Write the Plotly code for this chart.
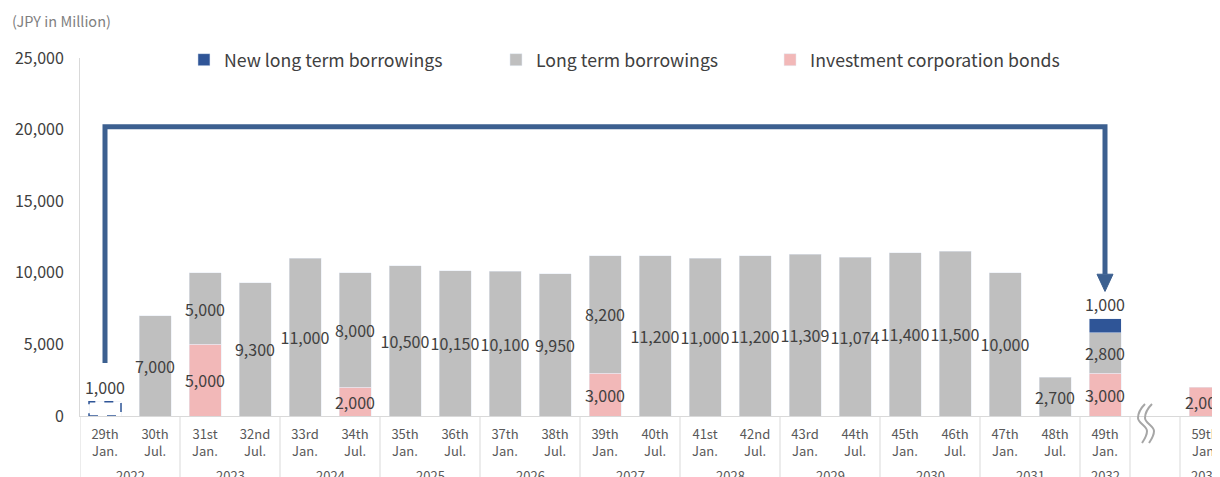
import plotly.graph_objects as go

# ---------------- data ----------------
categories = ["29th<br>Jan.", "30th<br>Jul.", "31st<br>Jan.", "32nd<br>Jul.", "33rd<br>Jan.",
              "34th<br>Jul.", "35th<br>Jan.", "36th<br>Jul.", "37th<br>Jan.", "38th<br>Jul.",
              "39th<br>Jan.", "40th<br>Jul.", "41st<br>Jan.", "42nd<br>Jul.", "43rd<br>Jan.",
              "44th<br>Jul.", "45th<br>Jan.", "46th<br>Jul.", "47th<br>Jan.", "48th<br>Jul.",
              "49th<br>Jan.", "\u00a0", "59th<br>Jan."]
years = ["2022", "2023", "2024", "2025", "2026", "2027", "2028", "2029", "2030", "2031", "2032", "2037"]
year_centers = [0.5, 2.5, 4.5, 6.5, 8.5, 10.5, 12.5, 14.5, 16.5, 18.5, 20, 22]
dividers = [-0.5, 1.5, 3.5, 5.5, 7.5, 9.5, 11.5, 13.5, 15.5, 17.5, 19.5, 20.5, 21.5]

bonds = [None, None, 5000, None, None, 2000, None, None, None, None, 3000, None, None, None,
         None, None, None, None, None, None, 3000, None, 2000]
long_term = [None, 7000, 5000, 9300, 11000, 8000, 10500, 10150, 10100, 9950, 8200, 11200, 11000,
             11200, 11309, 11074, 11400, 11500, 10000, 2700, 2800, None, None]
new_long = [None] * 20 + [1000, None, None]
refinanced = [1000] + [None] * 22   # 29th, repaid by the new borrowing (dashed)

# ---------------- styles ----------------
FONT = "Noto Sans CJK JP"
C_BLUE = "#2F5597"
C_GRAY = "#BFBFBF"
C_PINK = "#F2B8B8"
C_ARROW = "#3C6090"
C_TEXT = "#404040"
C_AXIS = "#D9D9D9"
BAR_W = 0.64
LBL = dict(color=C_TEXT, size=16)


def fmt(vals):
    return [f"{v:,}" if v is not None else "" for v in vals]


fig = go.Figure()
fig.add_bar(x=categories, y=bonds, name="Investment corporation bonds", marker_color=C_PINK,
            text=fmt(bonds), textposition="inside", insidetextanchor="middle", textangle=0,
            constraintext="none", textfont=LBL, width=BAR_W, legend="legend3")
fig.add_bar(x=categories, y=long_term, name="Long term borrowings", marker_color=C_GRAY,
            text=fmt(long_term), textposition="inside", insidetextanchor="middle", textangle=0,
            constraintext="none", textfont=LBL, width=BAR_W, legend="legend2")
fig.add_bar(x=categories, y=new_long, name="New long term borrowings", marker_color=C_BLUE,
            text=fmt(new_long), textposition="outside", constraintext="none", textangle=0,
            textfont=LBL, width=BAR_W, legend="legend")
fig.add_bar(x=categories, y=refinanced, name="refinanced", marker_color="rgba(0,0,0,0)",
            text=fmt(refinanced), textposition="outside", constraintext="none", textangle=0,
            textfont=LBL, width=BAR_W, showlegend=False)

# dashed outline for the refinanced bar
for i, v in enumerate(refinanced):
    if v is not None:
        fig.add_shape(type="rect", xref="x", yref="y", x0=i - BAR_W / 2, x1=i + BAR_W / 2,
                      y0=0, y1=v, line=dict(color=C_BLUE, width=1.5, dash="dash"),
                      fillcolor="rgba(0,0,0,0)")

# refinancing arrow from 29th to 49th
src, dst = 0, 20
y_low, y_top, y_head = 3700, 20200, 9900
fig.add_shape(type="path", xref="x", yref="y",
              path=f"M {src} {y_low} L {src} {y_top} L {dst} {y_top} L {dst} {y_head}",
              line=dict(color=C_ARROW, width=5))
fig.add_shape(type="path", xref="x", yref="y",
              path=f"M {dst - 0.16} {y_head} L {dst + 0.16} {y_head} L {dst} {8700} Z",
              line=dict(color=C_ARROW, width=1), fillcolor=C_ARROW)

# group dividers below the axis
for d in dividers:
    fig.add_shape(type="line", xref="x", yref="paper", x0=d, x1=d, y0=0, y1=-0.2,
                  line=dict(color=C_AXIS, width=1))

# year labels
for yr, xc in zip(years, year_centers):
    fig.add_annotation(x=xc, y=0, xref="x", yref="paper", text=yr, showarrow=False,
                       yanchor="top", yshift=-48, font=dict(size=13, color="#595959", family=FONT))

# break symbol in the gap slot
gap = 21
for bx in (-17, -10):
    p = (f"M {bx + 7} 12 C {bx + 3} 8, {bx} 3, {bx} -2 "
         f"C {bx} -7, {bx + 9} -10, {bx + 9} -15 C {bx + 9} -20, {bx + 6} -24, {bx + 4} -27")
    fig.add_shape(type="path", xref="x", yref="paper", xsizemode="pixel", ysizemode="pixel",
                  xanchor=gap, yanchor=0, path=p, line=dict(color="#A6A6A6", width=2))

fig.add_annotation(x=-0.0614, y=1.106, xref="paper", yref="paper", text="(JPY in Million)",
                   showarrow=False, xanchor="left", yanchor="middle",
                   font=dict(size=14.5, color="#7F7F7F", family=FONT))

leg = dict(orientation="h", y=0.994, xanchor="left", yanchor="middle", traceorder="normal",
           font=dict(size=17.7, color="#404040"), bgcolor="rgba(0,0,0,0)")

fig.update_layout(
    width=1220, height=477, barmode="stack",
    margin=dict(l=72, r=8, t=50, b=69),
    paper_bgcolor="white", plot_bgcolor="white",
    font=dict(family=FONT, color=C_TEXT),
    legend=dict(leg, x=0.0912),
    legend2=dict(leg, x=0.3649),
    legend3=dict(leg, x=0.6053),
    xaxis=dict(type="category", range=[-0.5, 22.3], showline=True, linecolor=C_AXIS,
               showgrid=False, ticks="", tickfont=dict(size=13, color="#595959"),
               ticklabelstandoff=6, fixedrange=True),
    yaxis=dict(range=[0, 25000], tickvals=[0, 5000, 10000, 15000, 20000, 25000],
               tickformat=",", showline=True, linecolor=C_AXIS, showgrid=False,
               zeroline=False, ticks="", ticklabelstandoff=12,
               tickfont=dict(size=16, color="#404040")),
    showlegend=True,
)

fig.write_html("out.html")
